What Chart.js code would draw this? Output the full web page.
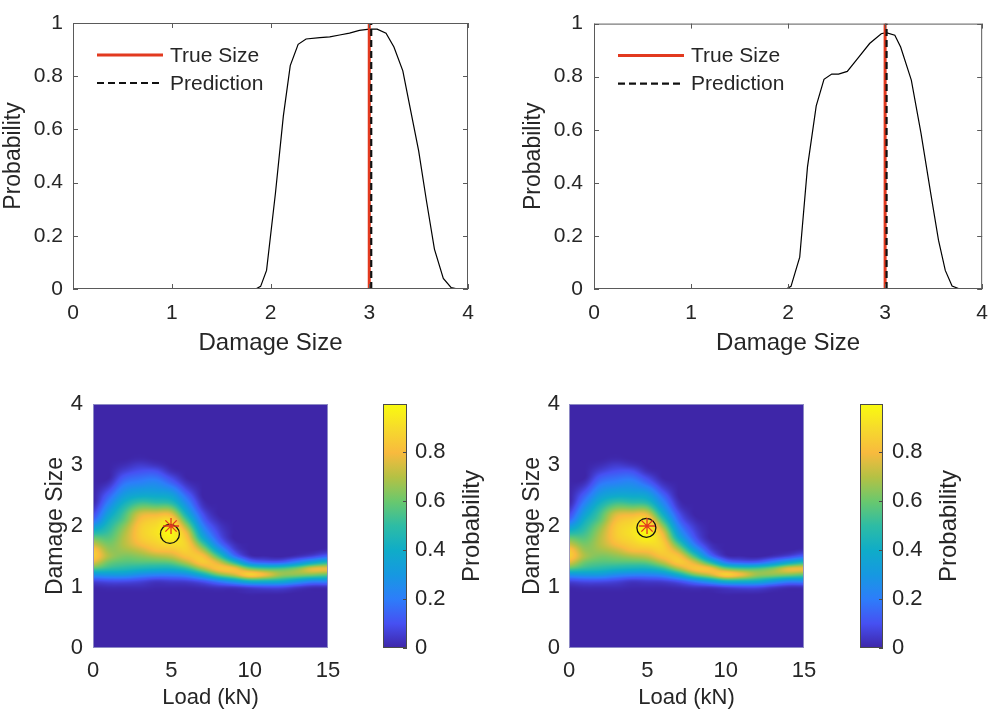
<!DOCTYPE html>
<html>
<head>
<meta charset="utf-8">
<script src="https://cdn.jsdelivr.net/npm/chart.js@4.4.0/dist/chart.umd.min.js"></script>
<style>
  body { margin: 0; background: #fff; }
  #fig { position: relative; width: 1000px; height: 715px; overflow: hidden; }
  #fig canvas { position: absolute; }
</style>
</head>
<body>
<div id="fig">
  <canvas id="curveA" width="500" height="360" style="left:0;top:0"></canvas>
  <canvas id="curveB" width="500" height="360" style="left:500px;top:0"></canvas>
  <canvas id="mapA" width="360" height="355" style="left:0;top:360px"></canvas>
  <canvas id="barA" width="140" height="355" style="left:360px;top:360px"></canvas>
  <canvas id="mapB" width="330" height="355" style="left:500px;top:360px"></canvas>
  <canvas id="barB" width="163" height="355" style="left:837px;top:360px"></canvas>
</div>
<script>
// ---- top panels: probability over damage size ----
const sizeA = [0, 1.85, 1.9, 1.96, 2.05, 2.13, 2.2, 2.28, 2.36, 2.5, 2.6, 2.7, 2.8, 2.9, 3.0, 3.08, 3.17, 3.25, 3.34, 3.42, 3.5, 3.58, 3.66, 3.75, 3.83, 3.9, 4.0];
const probA = [0, 0, 0.01, 0.07, 0.36, 0.65, 0.84, 0.92, 0.94, 0.945, 0.948, 0.955, 0.962, 0.972, 0.977, 0.977, 0.962, 0.91, 0.82, 0.67, 0.52, 0.33, 0.15, 0.04, 0.005, 0, 0];
const sizeB = [0, 1.98, 2.03, 2.12, 2.2, 2.29, 2.37, 2.45, 2.52, 2.61, 2.72, 2.84, 2.96, 3.01, 3.1, 3.16, 3.27, 3.37, 3.47, 3.55, 3.62, 3.69, 3.77, 4.0];
const probB = [0, 0, 0.01, 0.12, 0.46, 0.69, 0.79, 0.81, 0.81, 0.82, 0.87, 0.925, 0.962, 0.966, 0.956, 0.912, 0.787, 0.586, 0.36, 0.184, 0.07, 0.011, 0, 0];
const trueSize = 3.0;
const predA = 3.02;
const predB = 3.015;
const sizeTicks = [0, 1, 2, 3, 4];
const probTicks = [0, 0.2, 0.4, 0.6, 0.8, 1];

// ---- bottom panels: probability map over load and damage size ----
const loadCols = [0, 1, 2, 3, 4, 5, 6, 7, 8, 9, 10, 11, 12, 13, 14, 15];
const damageRows = [3.2, 3.1, 3.0, 2.9, 2.8, 2.7, 2.6, 2.5, 2.4, 2.3, 2.2, 2.1, 2.0, 1.9, 1.8, 1.7, 1.6, 1.5, 1.4, 1.3, 1.2, 1.1, 1.0, 0.9, 0.8];
const probMap = [
  [0, 0, 0, 0, 0, 0, 0, 0, 0, 0, 0, 0, 0, 0, 0, 0],
  [0, 0, 0, 0.01, 0, 0, 0, 0, 0, 0, 0, 0, 0, 0, 0, 0],
  [0, 0, 0.02, 0.05, 0.03, 0, 0, 0, 0, 0, 0, 0, 0, 0, 0, 0],
  [0, 0, 0.06, 0.10, 0.10, 0.02, 0, 0, 0, 0, 0, 0, 0, 0, 0, 0],
  [0, 0, 0.12, 0.16, 0.17, 0.08, 0, 0, 0, 0, 0, 0, 0, 0, 0, 0],
  [0, 0.03, 0.18, 0.22, 0.24, 0.15, 0.03, 0, 0, 0, 0, 0, 0, 0, 0, 0],
  [0, 0.08, 0.25, 0.30, 0.30, 0.25, 0.08, 0, 0, 0, 0, 0, 0, 0, 0, 0],
  [0, 0.14, 0.32, 0.38, 0.38, 0.35, 0.15, 0, 0, 0, 0, 0, 0, 0, 0, 0],
  [0, 0.20, 0.40, 0.50, 0.48, 0.45, 0.22, 0.02, 0, 0, 0, 0, 0, 0, 0, 0],
  [0.03, 0.27, 0.48, 0.62, 0.62, 0.60, 0.30, 0.05, 0, 0, 0, 0, 0, 0, 0, 0],
  [0.08, 0.34, 0.54, 0.74, 0.77, 0.76, 0.40, 0.10, 0, 0, 0, 0, 0, 0, 0, 0],
  [0.15, 0.41, 0.58, 0.80, 0.86, 0.88, 0.52, 0.15, 0.02, 0, 0, 0, 0, 0, 0, 0],
  [0.30, 0.47, 0.64, 0.84, 0.90, 0.95, 0.65, 0.22, 0.05, 0, 0, 0, 0, 0, 0, 0],
  [0.45, 0.52, 0.68, 0.85, 0.92, 0.98, 0.76, 0.30, 0.08, 0, 0, 0, 0, 0, 0, 0],
  [0.60, 0.57, 0.70, 0.84, 0.90, 0.96, 0.82, 0.40, 0.12, 0, 0, 0, 0, 0, 0, 0],
  [0.72, 0.62, 0.70, 0.80, 0.86, 0.90, 0.86, 0.55, 0.20, 0.03, 0, 0, 0, 0, 0, 0],
  [0.84, 0.66, 0.67, 0.72, 0.80, 0.82, 0.86, 0.70, 0.35, 0.08, 0, 0, 0, 0, 0, 0.02],
  [0.86, 0.68, 0.62, 0.64, 0.68, 0.72, 0.82, 0.82, 0.55, 0.20, 0.03, 0.01, 0, 0.03, 0.08, 0.15],
  [0.75, 0.60, 0.56, 0.56, 0.56, 0.58, 0.70, 0.84, 0.75, 0.50, 0.22, 0.15, 0.15, 0.25, 0.38, 0.48],
  [0.56, 0.50, 0.47, 0.44, 0.42, 0.42, 0.50, 0.68, 0.82, 0.80, 0.62, 0.55, 0.55, 0.62, 0.76, 0.78],
  [0.28, 0.30, 0.30, 0.25, 0.22, 0.22, 0.26, 0.40, 0.60, 0.72, 0.86, 0.78, 0.66, 0.64, 0.62, 0.58],
  [0.08, 0.10, 0.10, 0.08, 0.05, 0.06, 0.07, 0.12, 0.22, 0.33, 0.45, 0.45, 0.42, 0.33, 0.25, 0.25],
  [0.01, 0.02, 0.02, 0.02, 0.01, 0.01, 0.01, 0.02, 0.04, 0.05, 0.08, 0.10, 0.10, 0.06, 0.03, 0.03],
  [0, 0, 0, 0, 0, 0, 0, 0, 0, 0, 0.01, 0.01, 0.01, 0, 0, 0],
  [0, 0, 0, 0, 0, 0, 0, 0, 0, 0, 0, 0, 0, 0, 0, 0]
];
const loadTicks = [0, 5, 10, 15];
const damageTicks = [0, 1, 2, 3, 4];
const cbTicks = [0, 0.2, 0.4, 0.6, 0.8];
const cbMax = 0.995;

// markers: circle = prediction, star = true point
const circleA = { x: 4.91, y: 1.87 };
const starA = { x: 4.98, y: 2.0 };
const circleB = { x: 4.94, y: 1.97 };
const starB = { x: 4.98, y: 2.0 };

// ---- style ----
const FONT = '"Liberation Sans", Arial, Helvetica, sans-serif';
const TEXT = '#262626';
const RED = '#e2391f';
const parula = [
  [62, 38, 168], [70, 80, 242], [45, 125, 250], [22, 152, 225], [15, 172, 200],
  [45, 188, 165], [105, 200, 110], [180, 193, 68], [248, 186, 62], [246, 218, 44], [249, 251, 14]
];

Chart.defaults.font.family = FONT;
Chart.defaults.color = TEXT;

function cmap(t) {
  t = Math.min(Math.max(t, 0), 1) * (parula.length - 1);
  const i = Math.min(Math.floor(t), parula.length - 2), f = t - i;
  const a = parula[i], b = parula[i + 1];
  return [a[0] + (b[0] - a[0]) * f, a[1] + (b[1] - a[1]) * f, a[2] + (b[2] - a[2]) * f];
}
function cmapCss(t) {
  const c = cmap(t);
  return `rgb(${Math.round(c[0])},${Math.round(c[1])},${Math.round(c[2])})`;
}

const fixWidth = w => s => { s.width = w; };
const fixHeight = h => s => { s.height = h; };
const useTicks = arr => s => { s.ticks = arr.map(v => ({ value: v })); };
const plainLabel = v => String(v);
const font = size => ({ family: FONT, size });

// box with inward tick marks, like matlab axes
const boxPlugin = {
  id: 'matlabBox',
  afterDatasetsDraw(chart, args, o) {
    const { ctx, chartArea: a, scales } = chart;
    ctx.save();
    ctx.strokeStyle = o.color;
    ctx.lineWidth = 1;
    ctx.strokeRect(a.left + 0.5, a.top + 0.5, a.width - 1, a.height - 1);
    const len = o.tickLen || 0;
    ctx.beginPath();
    if (len && o.xTicks && scales.x) {
      scales.x.ticks.forEach(t => {
        const px = Math.round(scales.x.getPixelForValue(t.value)) + 0.5;
        ctx.moveTo(px, a.bottom); ctx.lineTo(px, a.bottom - len);
        ctx.moveTo(px, a.top); ctx.lineTo(px, a.top + len);
      });
    }
    if (len && scales.y) {
      scales.y.ticks.forEach(t => {
        const py = Math.round(scales.y.getPixelForValue(t.value)) + 0.5;
        if (o.leftTicks) { ctx.moveTo(a.left, py); ctx.lineTo(a.left + len, py); }
        ctx.moveTo(a.right, py); ctx.lineTo(a.right - len, py);
      });
    }
    ctx.stroke();
    ctx.restore();
  }
};

// legend in the upper left corner of the plot
const legendPlugin = {
  id: 'insideLegend',
  afterDraw(chart, args, o) {
    if (!o.order) return;
    const { ctx, chartArea: a } = chart;
    o.order.forEach((idx, k) => {
      const ds = chart.data.datasets[idx];
      const y = a.top + o.top + k * o.gap;
      const x0 = a.left + o.left;
      ctx.save();
      ctx.strokeStyle = ds.borderColor;
      ctx.lineWidth = ds.borderWidth;
      ctx.setLineDash(ds.borderDash || []);
      ctx.beginPath();
      ctx.moveTo(x0, y); ctx.lineTo(x0 + o.len, y);
      ctx.stroke();
      ctx.setLineDash([]);
      ctx.fillStyle = TEXT;
      ctx.font = `21px ${FONT}`;
      ctx.textBaseline = 'middle';
      ctx.fillText(ds.label, x0 + o.len + 7, y + 1);
      ctx.restore();
    });
  }
};

// smooth (catmull-rom) lookup into the map, zero outside the rows
function cr(p0, p1, p2, p3, t) {
  return 0.5 * (2 * p1 + (p2 - p0) * t + (2 * p0 - 5 * p1 + 4 * p2 - p3) * t * t + (3 * p1 - p0 - 3 * p2 + p3) * t * t * t);
}
function cell(r, c) {
  if (r < 0 || r >= damageRows.length) return 0;
  c = Math.min(Math.max(c, 0), loadCols.length - 1);
  return probMap[r][c];
}
function mapValue(L, d) {
  const fr = (damageRows[0] - d) / (damageRows[0] - damageRows[1]);
  const fc = Math.min(Math.max((L - loadCols[0]) / (loadCols[1] - loadCols[0]), 0), loadCols.length - 1);
  const r = Math.floor(fr), c = Math.floor(fc), tr = fr - r, tc = fc - c;
  const rowVals = [];
  for (let k = -1; k <= 2; k++) {
    rowVals.push(cr(cell(r + k, c - 1), cell(r + k, c), cell(r + k, c + 1), cell(r + k, c + 2), tc));
  }
  const v = cr(rowVals[0], rowVals[1], rowVals[2], rowVals[3], tr);
  return Math.min(Math.max(v, 0), 1);
}

// probability map painted under the markers
const mapPlugin = {
  id: 'probMap',
  beforeDatasetsDraw(chart) {
    const { ctx, chartArea: a, scales: { x, y } } = chart;
    const w = Math.round(a.width), h = Math.round(a.height);
    const img = ctx.createImageData(w, h);
    for (let j = 0; j < h; j++) {
      const d = y.getValueForPixel(a.top + j + 0.5);
      for (let i = 0; i < w; i++) {
        const L = x.getValueForPixel(a.left + i + 0.5);
        const c = cmap(mapValue(L, d) / cbMax);
        const p = (j * w + i) * 4;
        img.data[p] = c[0]; img.data[p + 1] = c[1]; img.data[p + 2] = c[2]; img.data[p + 3] = 255;
      }
    }
    ctx.putImageData(img, Math.round(a.left), Math.round(a.top));
  }
};

// colorbar label reading bottom to top
const sideTitle = {
  id: 'sideTitle',
  afterDraw(chart, args, o) {
    if (!o.text) return;
    const { ctx, chartArea: a } = chart;
    ctx.save();
    ctx.translate(o.x, (a.top + a.bottom) / 2);
    ctx.rotate(-Math.PI / 2);
    ctx.font = `${o.size}px ${FONT}`;
    ctx.fillStyle = TEXT;
    ctx.textAlign = 'center';
    ctx.textBaseline = 'middle';
    ctx.fillText(o.text, 0, 0);
    ctx.restore();
  }
};

function curveChart(id, sizes, probs, pred, L) {
  const curve = sizes.map((x, i) => ({ x: x, y: probs[i] }));
  return new Chart(document.getElementById(id), {
    type: 'scatter',
    data: {
      datasets: [
        { label: 'Prediction', data: [{ x: pred, y: 0 }, { x: pred, y: 1 }], showLine: true,
          borderColor: '#111111', borderWidth: 2.2, borderDash: [7, 4], pointRadius: 0 },
        { label: 'True Size', data: [{ x: trueSize, y: 0 }, { x: trueSize, y: 1 }], showLine: true,
          borderColor: RED, borderWidth: 3, pointRadius: 0 },
        { label: 'Probability', data: curve, showLine: true,
          borderColor: '#000000', borderWidth: 1.2, pointRadius: 0 }
      ]
    },
    options: {
      responsive: false,
      animation: false,
      events: [],
      layout: { padding: { top: 23, right: L.padRight, left: 0, bottom: 0 } },
      plugins: {
        legend: { display: false },
        tooltip: { enabled: false },
        matlabBox: { color: '#5a5a5a', tickLen: 5, xTicks: true, leftTicks: true },
        insideLegend: { order: [1, 0], left: 24, top: 32, gap: 28, len: 66 }
      },
      scales: {
        x: {
          type: 'linear', min: 0, max: 4,
          afterBuildTicks: useTicks(sizeTicks), afterFit: fixHeight(71),
          grid: { display: false, drawTicks: false }, border: { display: false },
          ticks: { font: font(21), padding: 12, maxRotation: 0, autoSkip: false, callback: plainLabel },
          title: { display: true, text: 'Damage Size', font: font(24), padding: { top: 0, bottom: 2 } }
        },
        y: {
          min: 0, max: 1,
          afterBuildTicks: useTicks(probTicks), afterFit: fixWidth(L.yWidth),
          grid: { display: false, drawTicks: false }, border: { display: false },
          ticks: { font: font(21), padding: L.tickPad, autoSkip: false, callback: plainLabel },
          title: { display: true, text: 'Probability', font: font(23), padding: { top: L.titlePad, bottom: 0 } }
        }
      }
    },
    plugins: [boxPlugin, legendPlugin]
  });
}

function mapChart(id, circle, star, L) {
  return new Chart(document.getElementById(id), {
    type: 'scatter',
    data: {
      datasets: [
        { label: 'True', data: [star], pointStyle: 'star', pointRadius: 8,
          borderColor: RED, borderWidth: 1.3, backgroundColor: 'transparent' },
        { label: 'Predicted', data: [circle], pointStyle: 'circle', pointRadius: 9.5,
          borderColor: '#111111', borderWidth: 1.3, backgroundColor: 'transparent' }
      ]
    },
    options: {
      responsive: false,
      animation: false,
      events: [],
      layout: { padding: { top: 44, right: L.padRight, left: 0, bottom: 0 } },
      plugins: {
        legend: { display: false },
        tooltip: { enabled: false },
        matlabBox: { color: 'rgba(150,150,200,0.9)', tickLen: 0 }
      },
      scales: {
        x: {
          type: 'linear', min: 0, max: 15,
          afterBuildTicks: useTicks(loadTicks), afterFit: fixHeight(67),
          grid: { display: false, drawTicks: false }, border: { display: false },
          ticks: { font: font(22), padding: 10, maxRotation: 0, autoSkip: false, callback: plainLabel },
          title: { display: true, text: 'Load (kN)', font: font(22), padding: { top: 0, bottom: 4 } }
        },
        y: {
          min: 0, max: 4,
          afterBuildTicks: useTicks(damageTicks), afterFit: fixWidth(L.yWidth),
          grid: { display: false, drawTicks: false }, border: { display: false },
          ticks: { font: font(22), padding: L.tickPad, autoSkip: false, callback: plainLabel },
          title: { display: true, text: 'Damage Size', font: font(23), padding: { top: L.titlePad, bottom: 0 } }
        }
      }
    },
    plugins: [mapPlugin, boxPlugin]
  });
}

function barGradient(chart) {
  const y = chart.scales.y;
  if (!chart.chartArea || !y) return cmapCss(0.5);
  const g = chart.ctx.createLinearGradient(0, y.getPixelForValue(0), 0, y.getPixelForValue(cbMax));
  for (let k = 0; k <= 20; k++) g.addColorStop(k / 20, cmapCss(k / 20));
  return g;
}

function colorbar(id, L) {
  return new Chart(document.getElementById(id), {
    type: 'bar',
    data: {
      labels: [''],
      datasets: [{ data: [[0, cbMax]], backgroundColor: c => barGradient(c.chart),
        borderWidth: 0, barPercentage: 1, categoryPercentage: 1 }]
    },
    options: {
      responsive: false,
      animation: false,
      events: [],
      layout: { padding: { top: 44, left: 23, right: 0, bottom: 67 } },
      plugins: {
        legend: { display: false },
        tooltip: { enabled: false },
        matlabBox: { color: '#4a4a4a', tickLen: 4 },
        sideTitle: { text: 'Probability', x: L.titleX, size: 24 }
      },
      scales: {
        x: { display: false },
        y: {
          position: 'right', min: 0, max: cbMax,
          afterBuildTicks: useTicks(cbTicks), afterFit: fixWidth(L.yWidth),
          grid: { display: false, drawTicks: false }, border: { display: false },
          ticks: { font: font(22), padding: L.tickPad, autoSkip: false, callback: plainLabel }
        }
      }
    },
    plugins: [boxPlugin, sideTitle]
  });
}

curveChart('curveA', sizeA, probA, predA, { padRight: 32, yWidth: 73, tickPad: 10, titlePad: 0 });
curveChart('curveB', sizeB, probB, predB, { padRight: 11, yWidth: 94, tickPad: 11, titlePad: 20 });
mapChart('mapA', circleA, starA, { padRight: 32, yWidth: 93, tickPad: 10, titlePad: 42 });
mapChart('mapB', circleB, starB, { padRight: 26, yWidth: 69, tickPad: 9, titlePad: 19 });
colorbar('barA', { yWidth: 93, tickPad: 8, titleX: 112 });
colorbar('barB', { yWidth: 117, tickPad: 9, titleX: 112 });
</script>
</body>
</html>
